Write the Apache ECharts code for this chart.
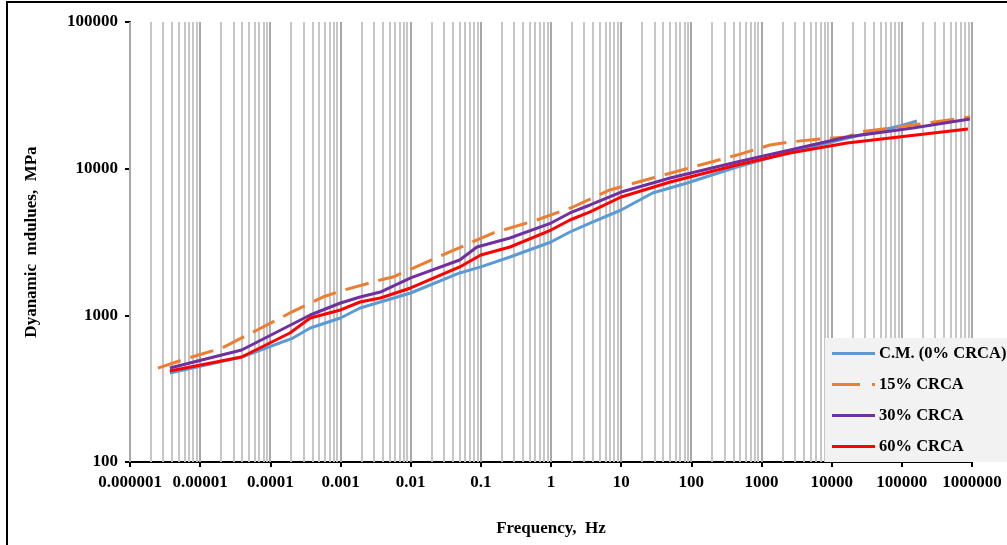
<!DOCTYPE html>
<html>
<head>
<meta charset="utf-8">
<script src="https://cdn.jsdelivr.net/npm/echarts@6/dist/echarts.min.js"></script>
<style>
html,body{margin:0;padding:0;background:#fff;}
#chart{width:1007px;height:545px;}
</style>
</head>
<body>
<div id="chart"></div>
<script>
// ---- Data ----
var seriesNames = ['C.M. (0% CRCA)', '15% CRCA', '30% CRCA', '60% CRCA'];

var cmFreq = [3.7e-6, 3.9e-5, 2.1e-4, 3.7e-4, 1e-3, 1.9e-3, 3.7e-3, 0.01, 0.05, 0.1, 0.26, 1, 1.86, 3.6, 10, 28, 87, 447, 2550, 38700, 94000, 164000];
var cmMod  = [404, 520, 700, 820, 959, 1122, 1233, 1420, 1945, 2138, 2500, 3162, 3700, 4259, 5226, 6823, 7985, 10260, 13000, 17780, 19540, 21130];

var c15Freq = [2.5e-6, 6.1e-6, 2.05e-5, 6.5e-5, 1.9e-4, 5.6e-4, 1e-3, 3.7e-3, 5.6e-3, 0.036, 0.149, 0.63, 2.06, 6.9, 28, 105, 447, 1320, 2550, 6800, 16500, 25300, 144000, 935000];
var c15Mod  = [437, 504, 599, 794, 1038, 1333, 1465, 1741, 1825, 2704, 3642, 4467, 5479, 7161, 8635, 10260, 12380, 14490, 15200, 15930, 16450, 17780, 19850, 22500];

var c30Freq = [3.7e-6, 3.9e-5, 3.7e-4, 1e-3, 1.9e-3, 3.7e-3, 0.01, 0.05, 0.088, 0.26, 1, 1.86, 3.6, 10, 50, 447, 2550, 16500, 144000, 935000];
var c30Mod  = [437, 580, 1005, 1214, 1333, 1442, 1798, 2384, 2924, 3367, 4259, 4988, 5654, 6930, 8635, 11100, 13400, 16450, 18930, 21820];

var c60Freq = [3.7e-6, 3.9e-5, 1.9e-4, 3.7e-4, 1e-3, 1.9e-3, 3.7e-3, 0.01, 0.05, 0.1, 0.26, 1, 1.86, 3.6, 10, 50, 447, 2550, 16500, 875000];
var c60Mod  = [417, 520, 758, 959, 1088, 1233, 1313, 1536, 2138, 2578, 2924, 3817, 4467, 5069, 6410, 8114, 10590, 12780, 14960, 18620];

var xTickLabels = ['0.000001', '0.00001', '0.0001', '0.001', '0.01', '0.1', '1', '10', '100', '1000', '10000', '100000', '1000000'];
var yTickLabels = ['100', '1000', '10000', '100000'];

// ---- Build helpers ----
function pairs(xs, ys) { return xs.map(function (x, i) { return [x, ys[i]]; }); }

// vertical log gridlines (1..9 per decade)
var gridLines = [];
for (var e = -6; e <= 6; e++) {
  if (e < 6) { for (var k = 1; k <= 9; k++) gridLines.push([k * Math.pow(10, e), k === 1 ? 1 : 0]); }
  else gridLines.push([Math.pow(10, e), 1]);
}

var serifFont = '"Liberation Serif", "Times New Roman", serif';
var chart = echarts.init(document.getElementById('chart'), null, { renderer: 'canvas' });

var legendIcons = [
  'path://M0,0H43V3H0Z',
  'path://M0,0H28V3H0Z M40,0H43V3H40Z',
  'path://M0,0H43V3H0Z',
  'path://M0,0H43V3H0Z'
];

var option = {
  animation: false,
  backgroundColor: '#ffffff',
  grid: { left: 130, right: 35, top: 22, bottom: 83, containLabel: false },
  graphic: [{
    type: 'rect', silent: true, z: 100,
    shape: { x: 7, y: 2, width: 1010, height: 560 },
    style: { fill: 'none', stroke: '#000', lineWidth: 2 }
  }],
  legend: {
    orient: 'vertical',
    left: 825, top: 338,
    backgroundColor: '#f2f2f2',
    padding: [7, 40, 7, 7],
    itemWidth: 43, itemHeight: 3, itemGap: 14,
    data: seriesNames.map(function (n, i) { return { name: n, icon: legendIcons[i] }; }),
    textStyle: { fontFamily: serifFont, fontWeight: 'bold', fontSize: 16.5, color: '#000', lineHeight: 16, height: 16, padding: [0, 0, 0, -1] }
  },
  xAxis: {
    type: 'log', logBase: 10, min: 1e-6, max: 1e6, interval: 1, splitNumber: 12,
    name: 'Frequency,  Hz', nameLocation: 'middle', nameGap: 58,
    nameTextStyle: { fontFamily: serifFont, fontWeight: 'bold', fontSize: 17, color: '#000' },
    axisLine: { lineStyle: { color: '#000', width: 2 } },
    axisTick: { show: true, length: 5, lineStyle: { color: '#000', width: 2 } },
    splitLine: { show: false },
    axisLabel: {
      margin: 12, interval: 0,
      fontFamily: serifFont, fontWeight: 'bold', fontSize: 17, color: '#000',
      formatter: function (v) { return xTickLabels[Math.round(Math.log10(v)) + 6]; }
    }
  },
  yAxis: {
    type: 'log', logBase: 10, min: 100, max: 100000, interval: 1, splitNumber: 3,
    name: 'Dyanamic  mdulues,  MPa', nameLocation: 'middle', nameGap: 90, nameRotate: 90,
    nameTextStyle: { fontFamily: serifFont, fontWeight: 'bold', fontSize: 17, color: '#000' },
    axisLine: { show: true, lineStyle: { color: '#000', width: 2 } },
    axisTick: { show: true, length: 5, lineStyle: { color: '#000', width: 2 } },
    splitLine: { show: false },
    axisLabel: {
      margin: 12,
      fontFamily: serifFont, fontWeight: 'bold', fontSize: 17, color: '#000',
      formatter: function (v) { return yTickLabels[Math.round(Math.log10(v)) - 2]; }
    }
  },
  series: [
    {
      name: 'gridlines', type: 'custom', silent: true, z: 1,
      data: gridLines,
      encode: { x: 0 },
      renderItem: function (params, api) {
        var f = api.value(0);
        var p1 = api.coord([f, 100]);
        var p2 = api.coord([f, 100000]);
        var x = Math.round(p1[0]);
        return {
          type: 'line', silent: true,
          shape: { x1: x, y1: p1[1], x2: x, y2: p2[1] },
          style: { stroke: api.value(1) ? '#a8a8a8' : '#c6c6c6', lineWidth: 2 }
        };
      }
    },
    {
      name: seriesNames[0], type: 'line', z: 3, showSymbol: false, symbol: 'none',
      data: pairs(cmFreq, cmMod), color: '#5b9bd5',
      lineStyle: { color: '#5b9bd5', width: 3 }
    },
    {
      name: seriesNames[1], type: 'line', z: 3, showSymbol: false, symbol: 'none',
      data: pairs(c15Freq, c15Mod), color: '#ed7d31',
      lineStyle: { color: '#ed7d31', width: 3, type: [24, 10] }
    },
    {
      name: seriesNames[2], type: 'line', z: 3, showSymbol: false, symbol: 'none',
      data: pairs(c30Freq, c30Mod), color: '#7030a0',
      lineStyle: { color: '#7030a0', width: 3 }
    },
    {
      name: seriesNames[3], type: 'line', z: 3, showSymbol: false, symbol: 'none',
      data: pairs(c60Freq, c60Mod), color: '#ff0000',
      lineStyle: { color: '#ff0000', width: 3 }
    }
  ]
};
chart.setOption(option);
</script>
</body>
</html>
